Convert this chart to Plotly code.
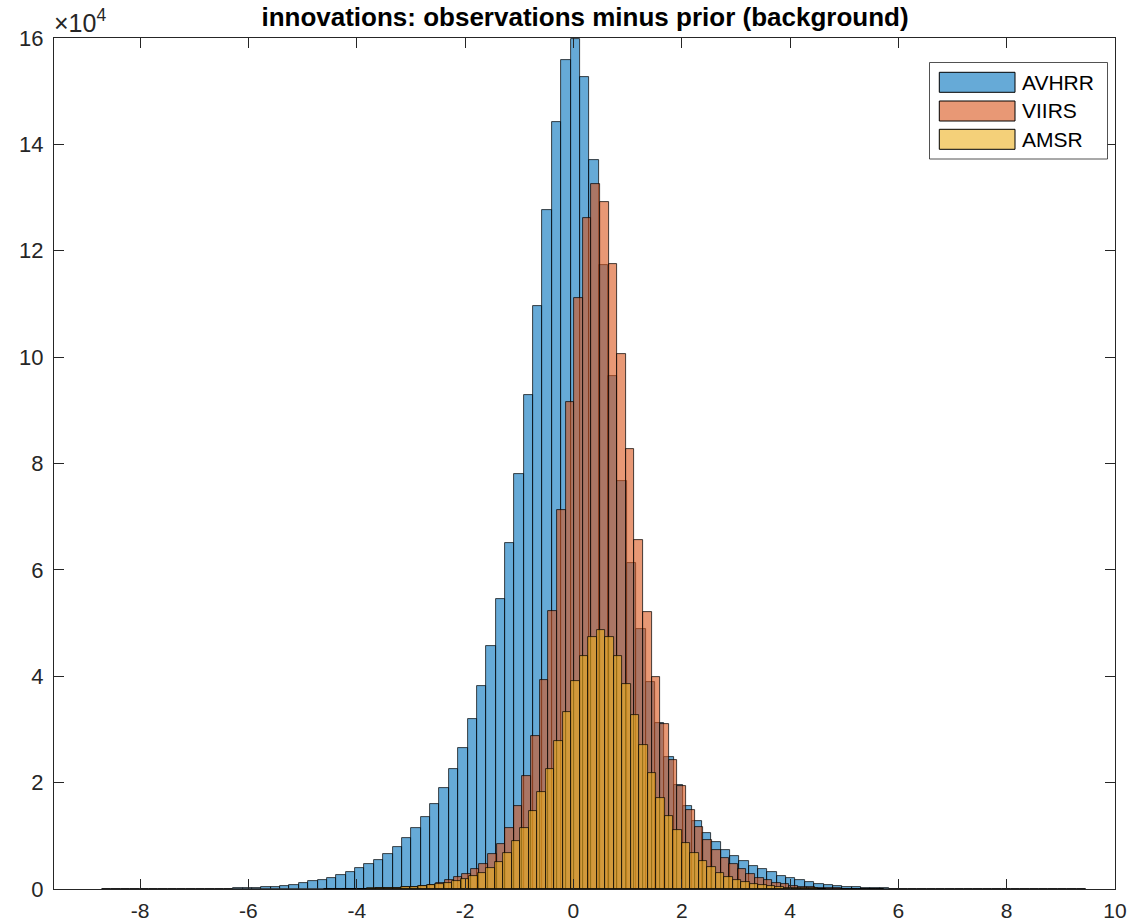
import plotly.graph_objects as go

# ---------------- data (counts in units of 1e4) ----------------
avhrr_first_edge = -8.702
avhrr_bin_width = 0.173
avhrr_counts = [
    0.001, 0.001, 0.001, 0.001, 0.002, 0.002, 0.002, 0.003, 0.003, 0.004,
    0.004, 0.005, 0.007, 0.009, 0.012, 0.016,
    0.020, 0.032, 0.045, 0.064, 0.082, 0.107, 0.145, 0.176, 0.214, 0.270,
    0.320, 0.390, 0.465, 0.540, 0.666, 0.797, 0.960, 1.148, 1.355, 1.600,
    1.895, 2.265, 2.653, 3.190, 3.810, 4.570, 5.450, 6.510, 7.810, 9.290,
    10.96, 12.76, 14.42, 15.58, 15.98, 15.26, 13.70, 11.73, 9.65, 7.68,
    6.13, 4.88, 3.90, 3.12, 2.48, 1.96, 1.57, 1.27, 1.06, 0.885,
    0.734, 0.628, 0.527, 0.427, 0.370, 0.320, 0.252, 0.207, 0.170, 0.132,
    0.100, 0.075, 0.055, 0.040, 0.030, 0.022, 0.016, 0.012, 0.009, 0.007,
    0.006, 0.005, 0.004, 0.004, 0.003, 0.003, 0.002, 0.002, 0.002, 0.002,
    0.001, 0.001, 0.001, 0.001, 0.001, 0.001, 0.001, 0.001, 0.001,
]

viirs_first_edge = -4.597
viirs_bin_width = 0.159
viirs_counts = [
    0.001, 0.002, 0.003, 0.004, 0.006, 0.009, 0.013, 0.018, 0.025, 0.034,
    0.046, 0.062, 0.082, 0.110, 0.160, 0.226, 0.290, 0.370, 0.478, 0.653,
    0.854, 1.155, 1.560, 2.130, 2.870, 3.930, 5.230, 7.125, 9.150, 11.11,
    12.61, 13.25, 12.91, 11.75, 10.06, 8.280, 6.570, 5.210, 3.990, 3.110,
    2.430, 1.930, 1.480, 1.170, 0.930, 0.740, 0.590, 0.470, 0.370, 0.290,
    0.214, 0.164, 0.120, 0.085, 0.060, 0.045, 0.033, 0.024, 0.017, 0.012,
    0.008, 0.005, 0.003, 0.002, 0.001,
]

amsr_first_edge = -4.281
amsr_bin_width = 0.157
amsr_counts = [
    0.003, 0.005, 0.008, 0.011, 0.015, 0.020, 0.027, 0.035, 0.045, 0.056,
    0.070, 0.088, 0.120, 0.150, 0.195, 0.245, 0.300, 0.400, 0.510, 0.680,
    0.900, 1.150, 1.470, 1.820, 2.250, 2.780, 3.330, 3.910, 4.380, 4.730,
    4.867, 4.730, 4.380, 3.850, 3.270, 2.700, 2.190, 1.710, 1.370, 1.100,
    0.870, 0.680, 0.527, 0.414, 0.300, 0.233, 0.177, 0.132, 0.094, 0.070,
    0.050, 0.038, 0.028, 0.020, 0.014, 0.010, 0.007,
]

series_names = ["AVHRR", "VIIRS", "AMSR"]
x_tick_values = [-8, -6, -4, -2, 0, 2, 4, 6, 8, 10]
y_tick_values = [0, 2, 4, 6, 8, 10, 12, 14, 16]

# ---------------- styling ----------------
W, H = 1127, 923
ML, MR, MT, MB = 54, 12, 38, 34
FONT = "Liberation Sans, Arial, Helvetica, sans-serif"
AXC = "#262626"
fills = ["rgba(0,114,189,0.6)", "rgba(217,83,25,0.6)", "rgba(237,177,32,0.6)"]


def centers(first, width, counts):
    return [first + width * (i + 0.5) for i in range(len(counts))]


fig = go.Figure()
for name, first, width, counts, fc in [
    ("AVHRR", avhrr_first_edge, avhrr_bin_width, avhrr_counts, fills[0]),
    ("VIIRS", viirs_first_edge, viirs_bin_width, viirs_counts, fills[1]),
    ("AMSR", amsr_first_edge, amsr_bin_width, amsr_counts, fills[2]),
]:
    fig.add_trace(go.Bar(
        x=centers(first, width, counts), y=counts, width=width, name=name,
        marker=dict(color=fc, line=dict(color="rgba(0,0,0,0.9)", width=0.8)),
        showlegend=False,
    ))

pw = W - ML - MR
ph = H - MT - MB


def px(x):
    return (x - ML) / pw


def py(y):
    return (H - MB - y) / ph


shapes = []
annotations = []
# legend box
shapes.append(dict(type="rect", xref="paper", yref="paper",
                   x0=px(929.5), x1=px(1107.5), y0=py(159), y1=py(62.5),
                   line=dict(color=AXC, width=0.8), fillcolor="white", layer="above"))
rows = [(72.3, 92.3), (101, 121), (129.3, 149.3)]
for (t, b), name, fc in zip(rows, series_names, fills):
    shapes.append(dict(type="rect", xref="paper", yref="paper",
                       x0=px(939.3), x1=px(1015), y0=py(b), y1=py(t),
                       line=dict(color="black", width=1), fillcolor=fc, layer="above"))
    annotations.append(dict(xref="paper", yref="paper", x=px(1019.5), y=py((t + b) / 2),
                            xanchor="left", yanchor="middle", showarrow=False,
                            text=name, font=dict(family=FONT, size=21, color="black")))

# exponent label
annotations.append(dict(xref="paper", yref="paper", x=px(52), y=py(39),
                        xanchor="left", yanchor="bottom", showarrow=False,
                        text="\u00d710<sup>4</sup>",
                        font=dict(family=FONT, size=25, color=AXC)))

fig.update_layout(
    width=W, height=H,
    margin=dict(l=ML, r=MR, t=MT, b=MB, autoexpand=False),
    paper_bgcolor="white", plot_bgcolor="white",
    barmode="overlay", bargap=0,
    title=dict(text="<b>innovations: observations minus prior (background)</b>",
               x=px(585), xref="paper", xanchor="center",
               y=1 - 17 / H, yref="container", yanchor="middle",
               font=dict(family=FONT, size=26, color="black")),
    shapes=shapes, annotations=annotations,
    font=dict(family=FONT, size=22, color=AXC),
)
fig.update_xaxes(
    range=[-9.59, 10], tickvals=x_tick_values,
    ticktext=[str(v) for v in x_tick_values],
    ticks="inside", ticklen=10, tickwidth=1, tickcolor=AXC,
    showline=True, linecolor=AXC, linewidth=1, mirror="ticks",
    showgrid=False, zeroline=False, ticklabelstandoff=3, automargin=False,
    ticklabeloverflow="allow",
    tickfont=dict(family=FONT, size=21, color=AXC),
)
fig.update_yaxes(
    range=[0, 16], tickvals=y_tick_values,
    ticktext=[str(v) for v in y_tick_values],
    ticks="inside", ticklen=10, tickwidth=1, tickcolor=AXC,
    showline=True, linecolor=AXC, linewidth=1, mirror="ticks",
    showgrid=False, zeroline=False, ticklabelstandoff=5, automargin=False,
    ticklabeloverflow="allow",
    tickfont=dict(family=FONT, size=22, color=AXC),
)

fig.write_html("out.html")
